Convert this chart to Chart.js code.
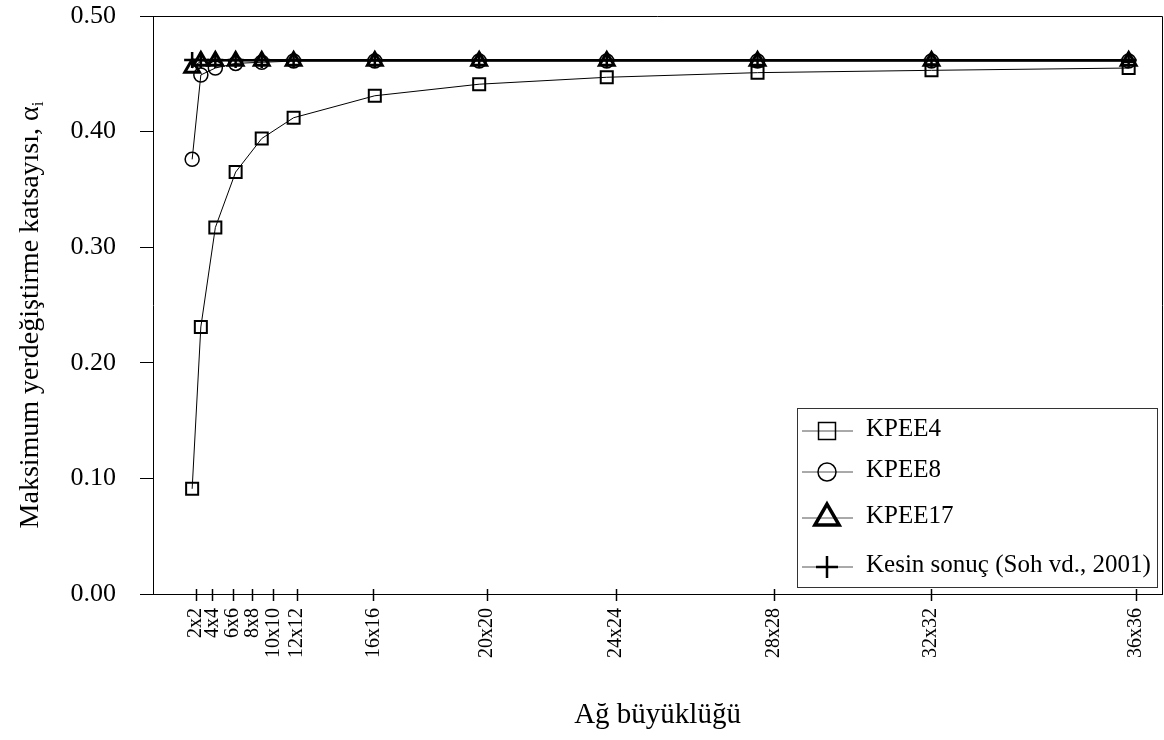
<!DOCTYPE html>
<html>
<head>
<meta charset="utf-8">
<script src="https://cdn.jsdelivr.net/npm/chart.js@4.4.1/dist/chart.umd.min.js"></script>
<style>
  html, body { margin: 0; padding: 0; background: #fff; }
</style>
</head>
<body>
<canvas id="chart" width="1164" height="740"></canvas>
<script>
// Ağ boyutu (eleman sayısı n*n) ve sonuç serileri
const meshSizes = [4, 16, 36, 64, 100, 144, 256, 400, 576, 784, 1024, 1296];
const kpee4 = [0.091, 0.231, 0.317, 0.365, 0.394, 0.412, 0.431, 0.441, 0.447, 0.451, 0.453, 0.455];
const kpee8 = [0.376, 0.449, 0.455, 0.459, 0.460, 0.461, 0.461, 0.461, 0.461, 0.461, 0.461, 0.461];
const kpee17 = [0.455, 0.461, 0.461, 0.461, 0.461, 0.461, 0.461, 0.461, 0.461, 0.461, 0.461, 0.461];
const exact = [0.462, 0.462, 0.462, 0.462, 0.462, 0.462, 0.462, 0.462, 0.462, 0.462, 0.462, 0.462];

// x ekseni etiketleri (orijinal grafikteki yerleriyle)
const tickValues = [9, 32, 60, 87, 116, 149, 254, 411, 589, 807, 1023, 1306];
const tickLabels = ["2x2", "4x4", "6x6", "8x8", "10x10", "12x12", "16x16", "20x20", "24x24", "28x28", "32x32", "36x36"];

const seriesNames = ["KPEE4", "KPEE8", "KPEE17", "Kesin sonuç (Soh vd., 2001)"];

const FONT = "'Liberation Serif', 'Times New Roman', serif";

const toPoints = (values) => meshSizes.map((x, i) => ({ x: x, y: values[i] }));

const datasets = [
  { label: seriesNames[0], data: toPoints(kpee4), pointStyle: "rect", pointRadius: 8.5, pointBorderWidth: 2, borderWidth: 1 },
  { label: seriesNames[1], data: toPoints(kpee8), pointStyle: "circle", pointRadius: 7, pointBorderWidth: 1.5, borderWidth: 1 },
  { label: seriesNames[2], data: toPoints(kpee17), pointStyle: "triangle", pointRadius: 8.5, pointBorderWidth: 3, borderWidth: 1 },
  { label: seriesNames[3], data: toPoints(exact), pointStyle: "cross", pointRadius: 8, pointBorderWidth: 2.5, borderWidth: 2 },
].map((d) => ({
  ...d,
  borderColor: "#000",
  pointBorderColor: "#000",
  pointBackgroundColor: "rgba(0,0,0,0)",
  backgroundColor: "rgba(0,0,0,0)",
  pointHoverRadius: d.pointRadius,
  tension: 0,
  clip: false,
}));

// Çerçeve, x çentikleri, y başlığı ve lejant
const decorations = {
  id: "decorations",
  afterDraw(chart) {
    const ctx = chart.ctx;
    const area = chart.chartArea;
    const xs = chart.scales.x;

    ctx.save();
    ctx.strokeStyle = "#000";
    ctx.lineWidth = 1;
    ctx.beginPath();
    ctx.moveTo(area.left, area.top + 0.5);
    ctx.lineTo(area.right + 0.5, area.top + 0.5);
    ctx.lineTo(area.right + 0.5, area.bottom);
    ctx.stroke();

    // x ekseni çentikleri eksenin iki yanına taşar
    ctx.lineWidth = 1.5;
    xs.ticks.forEach((t) => {
      const px = Math.round(xs.getPixelForValue(t.value)) + 0.5;
      ctx.beginPath();
      ctx.moveTo(px, area.bottom - 5);
      ctx.lineTo(px, area.bottom + 7);
      ctx.stroke();
    });

    // y ekseni başlığı (alt indisli)
    ctx.fillStyle = "#000";
    ctx.translate(38, 315);
    ctx.rotate(-Math.PI / 2);
    ctx.font = "28px " + FONT;
    const main = "Maksimum yerdeğiştirme katsayısı, α";
    const wMain = ctx.measureText(main).width;
    ctx.font = "17px " + FONT;
    const wSub = ctx.measureText("i").width;
    const start = -(wMain + wSub) / 2;
    ctx.font = "28px " + FONT;
    ctx.textBaseline = "alphabetic";
    ctx.fillText(main, start, 0);
    ctx.font = "17px " + FONT;
    ctx.fillText("i", start + wMain, 5);
    ctx.restore();

    // lejant kutusu
    const box = { left: 797, top: 408, right: 1157, bottom: 587 };
    ctx.save();
    ctx.fillStyle = "#fff";
    ctx.fillRect(box.left, box.top, box.right - box.left, box.bottom - box.top);
    ctx.strokeStyle = "#333";
    ctx.lineWidth = 1;
    ctx.strokeRect(box.left + 0.5, box.top + 0.5, box.right - box.left, box.bottom - box.top);

    const rows = [
      { y: 431, style: "rect", r: 12, bw: 1.5 },
      { y: 472, style: "circle", r: 9, bw: 1.5 },
      { y: 518, style: "triangle", r: 14, bw: 3.5 },
      { y: 567, style: "cross", r: 11, bw: 2.5 },
    ];
    rows.forEach((row, i) => {
      ctx.strokeStyle = "#555";
      ctx.lineWidth = 1;
      ctx.beginPath();
      ctx.moveTo(802, row.y);
      ctx.lineTo(853, row.y);
      ctx.stroke();
      ctx.strokeStyle = "#000";
      ctx.fillStyle = "rgba(0,0,0,0)";
      ctx.lineWidth = row.bw;
      Chart.helpers.drawPoint(ctx, { pointStyle: row.style, radius: row.r, borderWidth: row.bw, rotation: 0 }, 827, row.y);
      ctx.fillStyle = "#000";
      ctx.font = "25px " + FONT;
      ctx.textBaseline = "middle";
      ctx.textAlign = "left";
      ctx.fillText(seriesNames[i], 866, row.y - 2);
    });
    ctx.restore();
  },
};

new Chart(document.getElementById("chart"), {
  type: "line",
  data: { datasets: datasets },
  plugins: [decorations],
  options: {
    responsive: false,
    animation: false,
    devicePixelRatio: 1,
    layout: { autoPadding: false, padding: { top: 16, right: 2, left: 0, bottom: 0 } },
    plugins: {
      legend: { display: false },
      tooltip: { enabled: false },
    },
    scales: {
      x: {
        type: "linear",
        min: -50,
        max: 1342,
        afterFit: (scale) => {
          scale.height = 146;
          scale.paddingLeft = 0;
          scale.paddingRight = 0;
        },
        afterBuildTicks: (scale) => { scale.ticks = tickValues.map((v) => ({ value: v })); },
        grid: { display: false, drawTicks: false },
        border: { display: true, color: "#000", width: 1 },
        ticks: {
          autoSkip: false,
          maxRotation: 90,
          minRotation: 90,
          padding: 14,
          color: "#000",
          font: { family: FONT, size: 20 },
          callback: (value, index) => tickLabels[index],
        },
        title: {
          display: true,
          text: "Ağ büyüklüğü",
          color: "#000",
          font: { family: FONT, size: 29 },
          padding: { top: 0, bottom: 7 },
        },
      },
      y: {
        min: 0,
        max: 0.5,
        afterFit: (scale) => {
          scale.width = 153;
          scale.paddingTop = 0;
          scale.paddingBottom = 0;
        },
        grid: { drawOnChartArea: false, drawTicks: true, tickLength: 13, color: "#000" },
        border: { display: true, color: "#000", width: 1 },
        ticks: {
          stepSize: 0.1,
          padding: 24,
          color: "#000",
          font: { family: FONT, size: 26 },
          callback: (value) => value.toFixed(2),
        },
      },
    },
  },
});
</script>
</body>
</html>
